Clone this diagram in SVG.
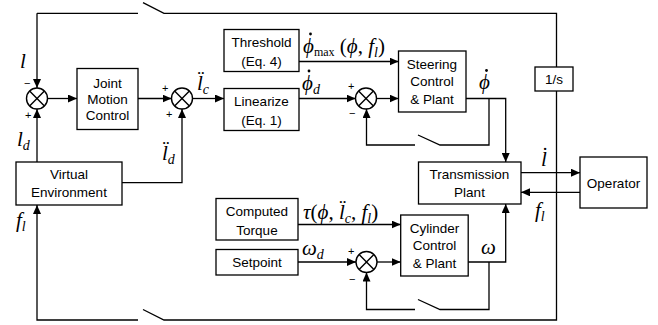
<svg xmlns="http://www.w3.org/2000/svg" width="658" height="325" viewBox="0 0 658 325">
<defs>
<marker id="ah" markerWidth="9" markerHeight="8" refX="9" refY="4" orient="auto" markerUnits="userSpaceOnUse">
<path d="M0,0 L9,4 L0,8 z" fill="#000"/>
</marker>
<g id="sum">
<circle cx="0" cy="0" r="10.5" fill="#fff" stroke="#000" stroke-width="1.4"/>
<path d="M-7.4,-7.4 L7.4,7.4 M-7.4,7.4 L7.4,-7.4" stroke="#000" stroke-width="1.4"/>
</g>
</defs>
<style>
.b{fill:#fff;stroke:#000;stroke-width:1.3}
.w{fill:none;stroke:#000;stroke-width:1.3}
.a{fill:none;stroke:#000;stroke-width:1.3;marker-end:url(#ah)}
.t{font-family:"Liberation Sans",Arial,sans-serif;font-size:13.5px;text-anchor:middle;fill:#000}
.m{font-family:"Liberation Serif","Times New Roman",serif;font-style:italic;font-size:21px;fill:#000}
.s{font-size:14px}
.x{font-size:12px}
.g{font-family:"Liberation Sans",Arial,sans-serif;font-size:11px;fill:#000}
.dot{fill:#000}
</style>
<rect width="658" height="325" fill="#fff"/>

<g id="connectors">
<path class="w" d="M37,13.3 L138,13.3"/>
<path class="w" d="M143,2.7 L164,13.3 L556.5,13.3 L556.5,67"/>
<path class="w" d="M556.5,91 L556.5,320 L164,320 L143,309.5"/>
<path class="a" d="M138,320 L37,320 L37,205"/>
<path class="a" d="M37,13.3 L37,88"/>
<path class="a" d="M47.5,98.5 L77,98.5"/>
<path class="a" d="M37,162 L37,109"/>
<path class="a" d="M138,98.5 L171.5,98.5"/>
<path class="a" d="M122,182.7 L182,182.7 L182,109"/>
<path class="a" d="M192.5,98.5 L224,98.5"/>
<path class="a" d="M299,98.5 L355.5,98.5"/>
<path class="a" d="M376.5,98.5 L398.5,98.5"/>
<path class="a" d="M299,61.5 L398.5,61.5"/>
<path class="a" d="M466,98.5 L505.7,98.5 L505.7,162"/>
<path class="w" d="M489,98.5 L489,145 L440,145 L418,135"/>
<path class="a" d="M415,145 L366.5,145 L366.5,109"/>
<path class="a" d="M521,172.7 L580,172.7"/>
<path class="a" d="M580,192.3 L521,192.3"/>
<path class="a" d="M298,224.5 L400.7,224.5"/>
<path class="a" d="M298,262 L356,262"/>
<path class="a" d="M377,262 L400.7,262"/>
<path class="a" d="M468,262 L505.7,262 L505.7,204"/>
<path class="w" d="M489,262 L489,309.5 L440,309.5 L418,299.5"/>
<path class="a" d="M415,309.5 L366.5,309.5 L366.5,272.5"/>
</g>

<g id="sum1"><use href="#sum" x="37" y="98.5"/></g>
<g id="sum2"><use href="#sum" x="182" y="98.5"/></g>
<g id="sum3"><use href="#sum" x="366" y="98.5"/></g>
<g id="sum4"><use href="#sum" x="366.5" y="262"/></g>

<g id="joint-motion-control"><rect class="b" x="77" y="68.5" width="61" height="61"/>
<text class="t" x="107.5" y="88">Joint</text><text class="t" x="107.5" y="104">Motion</text><text class="t" x="107.5" y="120">Control</text></g>
<g id="threshold"><rect class="b" x="224" y="29.5" width="75" height="42"/>
<text class="t" x="261.5" y="47">Threshold</text><text class="t" x="261.5" y="66">(Eq. 4)</text></g>
<g id="linearize"><rect class="b" x="224" y="88.5" width="75" height="42"/>
<text class="t" x="261.5" y="106">Linearize</text><text class="t" x="261.5" y="125">(Eq. 1)</text></g>
<g id="steering"><rect class="b" x="398.5" y="51" width="67.5" height="61"/>
<text class="t" x="432" y="68.5">Steering</text><text class="t" x="432" y="86">Control</text><text class="t" x="432" y="104">&amp; Plant</text></g>
<g id="integrator"><rect class="b" x="535" y="67" width="38" height="24"/>
<text class="t" x="554" y="84">1/s</text></g>
<g id="transmission"><rect class="b" x="418.5" y="162" width="102.5" height="42"/>
<text class="t" x="469.5" y="179">Transmission</text><text class="t" x="469.5" y="197">Plant</text></g>
<g id="operator"><rect class="b" x="580" y="157" width="67" height="51"/>
<text class="t" x="613.5" y="187.5">Operator</text></g>
<g id="cylinder"><rect class="b" x="400.7" y="215" width="67.5" height="61"/>
<text class="t" x="434.5" y="232.5">Cylinder</text><text class="t" x="434.5" y="250">Control</text><text class="t" x="434.5" y="268">&amp; Plant</text></g>
<g id="computed-torque"><rect class="b" x="216" y="198.5" width="82" height="41.5"/>
<text class="t" x="257" y="216">Computed</text><text class="t" x="257" y="235">Torque</text></g>
<g id="setpoint"><rect class="b" x="216" y="249.5" width="82" height="25.5"/>
<text class="t" x="257" y="267">Setpoint</text></g>
<g id="virtual-environment"><rect class="b" x="16" y="162" width="106" height="43"/>
<text class="t" x="69" y="179">Virtual</text><text class="t" x="69" y="197">Environment</text></g>

<g id="labels">
<text class="m" x="20" y="68">l</text>
<text class="m" x="17" y="146">l<tspan class="s" dy="4">d</tspan></text>
<text class="m" x="197" y="90">l̈<tspan class="s" dy="4">c</tspan></text>
<text class="m" x="162" y="160">l̈<tspan class="s" dy="4">d</tspan></text>
<text class="m" x="16" y="227">f<tspan class="s" dy="4">l</tspan></text>
<text class="m" x="303" y="53">ϕ<tspan class="x" dy="3" font-style="normal">max</tspan><tspan dy="-3" font-style="normal"> (</tspan>ϕ<tspan font-style="normal">, </tspan>f<tspan class="s" dy="4">l</tspan><tspan dy="-4" font-style="normal">)</tspan></text>
<circle class="dot" cx="310.5" cy="34" r="1.4"/>
<text class="m" x="302" y="90">ϕ<tspan class="s" dy="4">d</tspan></text>
<circle class="dot" cx="309" cy="71" r="1.4"/>
<text class="m" x="479" y="89">ϕ</text>
<circle class="dot" cx="486.5" cy="70.5" r="1.4"/>
<text class="m" x="541" y="166">l̇</text>
<text class="m" x="535" y="217">f<tspan class="s" dy="4">l</tspan></text>
<text class="m" x="303" y="219">τ<tspan font-style="normal">(</tspan>ϕ<tspan font-style="normal">, </tspan>l̈<tspan class="s" dy="4">c</tspan><tspan dy="-4" font-style="normal">, </tspan>f<tspan class="s" dy="4">l</tspan><tspan dy="-4" font-style="normal">)</tspan></text>
<text class="m" x="302" y="255">ω<tspan class="s" dy="4">d</tspan></text>
<text class="m" x="481" y="254">ω</text>
<text class="g" x="24" y="87">−</text>
<text class="g" x="25" y="119">+</text>
<text class="g" x="162" y="92">+</text>
<text class="g" x="166" y="118">+</text>
<text class="g" x="348" y="90">+</text>
<text class="g" x="349" y="117">−</text>
<text class="g" x="348" y="255">+</text>
<text class="g" x="349" y="283">−</text>
</g>
</svg>
